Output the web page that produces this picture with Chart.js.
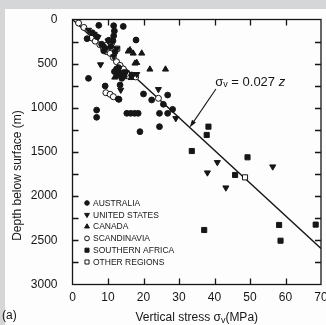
<!DOCTYPE html>
<html>
<head>
<meta charset="utf-8">
<script src="https://cdn.jsdelivr.net/npm/chart.js@4.4.1/dist/chart.umd.min.js"></script>
<style>
  html, body { margin: 0; padding: 0; background: #fff; }
</style>
</head>
<body>
<canvas id="stressChart" width="326" height="325"></canvas>
<script>
// values: vertical stress (MPa) vs depth (m)
const ausStress = [7.4, 11.6, 11.8, 11.6, 11.4, 14.3, 17.9, 4.1, 5.6, 6.9, 9.2, 12.0, 10.8, 4.5, 9.2, 13.1, 6.8, 6.8, 15.3, 16.4, 17.5, 18.5, 20.0, 26.8, 22.3, 25.6, 24.5, 26.8, 24.5, 19.0, 28.2, 12.9, 13.4, 13.9, 16.7, 12.4, 14.5, 8.2, 10.2, 12.9, 11.8, 13.0, 8.8];
const ausDepth = [66, 70, 130, 185, 240, 78, 232, 217, 150, 195, 326, 364, 305, 666, 753, 904, 1025, 1107, 1062, 1062, 1062, 1062, 843, 855, 911, 960, 1062, 1062, 1213, 1270, 1017, 628, 741, 666, 628, 560, 600, 280, 235, 900, 590, 545, 355];

const usaStress = [7.9, 13.6, 24.2, 29.1, 40.8, 38.0, 43.2, 56.4, 18.1, 6.1, 8.6, 10.0, 12.5, 11.6, 15.1, 4.5, 13.8, 7.2];
const usaDepth = [510, 798, 790, 1119, 1617, 1734, 1904, 1666, 620, 165, 300, 240, 330, 420, 600, 119, 640, 200];

const canStress = [16.2, 17.1, 19.5, 18.1, 21.8, 26.2, 17.6, 15.7, 13.4, 14.6, 12.5, 16.5, 11.9];
const canDepth = [345, 383, 383, 489, 564, 564, 496, 360, 600, 650, 620, 660, 655];

const scaStress = [1.7, 3.2, 5.5, 6.4, 7.7, 8.7, 9.6, 11.0, 10.6, 11.5, 12.4, 13.4, 14.3, 15.3, 17.8, 24.2, 9.4, 10.6, 11.5];
const scaDepth = [40, 90, 210, 245, 285, 320, 289, 270, 383, 430, 478, 520, 560, 610, 650, 892, 829, 847, 874];

const safStress = [38.3, 37.8, 33.6, 49.3, 45.8, 37.1, 58.2, 58.6, 68.5];
const safDepth = [1213, 1307, 1489, 1560, 1760, 2383, 2326, 2504, 2322];

const othStress = [48.6, 12.6, 9.8];
const othDepth = [1787, 330, 365];

const lineStress = [0, 70];
const lineDepth = [0, 2593];

const xTicksStep = 10;
const yTicksStep = 250;
const yLabelStep = 500;

const legendLabels = ['AUSTRALIA', 'UNITED STATES', 'CANADA', 'SCANDINAVIA', 'SOUTHERN AFRICA', 'OTHER REGIONS'];

// annotation: text anchor and arrow ends in data units
const noteAt = [40.2, 707];
const arrowFrom = [40.4, 787];
const arrowTo = [33.0, 1222];

const ink = '#161616';
const pts = (xs, ys) => xs.map((v, i) => ({ x: v, y: ys[i] }));

Chart.defaults.font.family = '"Liberation Sans", Arial, sans-serif';
Chart.defaults.color = ink;

const styles = [
  { pointStyle: 'circle', rotation: 0, radius: 2.9, fill: ink },
  { pointStyle: 'triangle', rotation: 180, radius: 3.5, fill: ink },
  { pointStyle: 'triangle', rotation: 0, radius: 3.5, fill: ink },
  { pointStyle: 'circle', rotation: 0, radius: 3.0, fill: '#fff' },
  { pointStyle: 'rect', rotation: 0, radius: 3.6, fill: ink },
  { pointStyle: 'rect', rotation: 0, radius: 3.6, fill: '#fff' }
];

function marker(ctx, st, x, y, scale) {
  const r = st.radius * scale;
  ctx.save();
  ctx.fillStyle = st.fill;
  ctx.strokeStyle = ink;
  ctx.lineWidth = 1;
  ctx.beginPath();
  if (st.pointStyle === 'circle') {
    ctx.arc(x, y, r, 0, Math.PI * 2);
  } else if (st.pointStyle === 'rect') {
    const s = r * Math.SQRT1_2;
    ctx.rect(x - s, y - s, 2 * s, 2 * s);
  } else {
    const d = st.rotation ? -1 : 1;
    ctx.moveTo(x, y - d * r);
    ctx.lineTo(x - r * 0.87, y + d * r * 0.5);
    ctx.lineTo(x + r * 0.87, y + d * r * 0.5);
    ctx.closePath();
  }
  ctx.fill();
  ctx.stroke();
  ctx.restore();
}

// draws pieces [text, font, dy] one after another, returns width
function runText(ctx, pieces, x, y, measureOnly) {
  let w = 0;
  pieces.forEach(p => {
    ctx.font = p[1];
    if (!measureOnly) ctx.fillText(p[0], x + w, y + (p[2] || 0));
    w += ctx.measureText(p[0]).width;
  });
  return w;
}

const decor = {
  id: 'decor',
  beforeDraw(chart) {
    const ctx = chart.ctx;
    ctx.save();
    ctx.fillStyle = '#d4d6d8';
    ctx.fillRect(0, 0, chart.width, chart.height);
    ctx.fillStyle = '#fdfdfd';
    ctx.fillRect(5, 9, chart.width - 5, chart.height - 9);
    ctx.restore();
  },
  afterDraw(chart) {
    const { ctx, chartArea: a, scales: { x, y } } = chart;
    ctx.save();
    ctx.strokeStyle = ink;
    ctx.fillStyle = ink;
    ctx.lineWidth = 1.3;
    ctx.strokeRect(a.left, a.top, a.right - a.left, a.bottom - a.top);

    ctx.beginPath();
    x.ticks.forEach(t => {
      if (t.value <= x.min || t.value >= x.max) return;
      const px = Math.round(x.getPixelForValue(t.value)) + 0.5;
      ctx.moveTo(px, a.bottom); ctx.lineTo(px, a.bottom - 6);
      ctx.moveTo(px, a.top); ctx.lineTo(px, a.top + 6);
    });
    y.ticks.forEach(t => {
      if (t.value <= y.min || t.value >= y.max) return;
      const py = Math.round(y.getPixelForValue(t.value)) + 0.5;
      ctx.moveTo(a.left, py); ctx.lineTo(a.left + 6, py);
      ctx.moveTo(a.right, py); ctx.lineTo(a.right - 6, py);
    });
    ctx.stroke();

    // arrow to the trend line
    const x0 = x.getPixelForValue(arrowFrom[0]), y0 = y.getPixelForValue(arrowFrom[1]);
    const x1 = x.getPixelForValue(arrowTo[0]), y1 = y.getPixelForValue(arrowTo[1]);
    const ang = Math.atan2(y1 - y0, x1 - x0);
    ctx.lineWidth = 1.1;
    ctx.beginPath();
    ctx.moveTo(x0, y0);
    ctx.lineTo(x1 - 5 * Math.cos(ang), y1 - 5 * Math.sin(ang));
    ctx.stroke();
    ctx.beginPath();
    ctx.moveTo(x1, y1);
    ctx.lineTo(x1 - 8 * Math.cos(ang - 0.3), y1 - 8 * Math.sin(ang - 0.3));
    ctx.lineTo(x1 - 8 * Math.cos(ang + 0.3), y1 - 8 * Math.sin(ang + 0.3));
    ctx.closePath();
    ctx.fill();

    ctx.textBaseline = 'middle';
    ctx.textAlign = 'left';
    const f = '13px "Liberation Sans", Arial, sans-serif';
    const fs = '9px "Liberation Sans", Arial, sans-serif';
    runText(ctx, [['σ', f], ['v', fs, 3], [' = 0.027 ', f], ['z', 'italic ' + f]],
      x.getPixelForValue(noteAt[0]), y.getPixelForValue(noteAt[1]));

    // x title with subscript
    const tf = '12px "Liberation Sans", Arial, sans-serif';
    const ts = '9px "Liberation Sans", Arial, sans-serif';
    const xt = [['Vertical stress σ', tf], ['v', ts, 3], ['(MPa)', tf]];
    const w = runText(ctx, xt, 0, 0, true);
    runText(ctx, xt, (a.left + a.right) / 2 - w / 2, 318);

    // y title
    ctx.save();
    ctx.translate(17.5, 175.5);
    ctx.rotate(-Math.PI / 2);
    ctx.textAlign = 'center';
    ctx.font = tf;
    ctx.fillText('Depth below surface (m)', 0, 0);
    ctx.restore();

    ctx.font = tf;
    ctx.fillText('(a)', 2, 316);

    // legend, inside lower left of the plot
    ctx.font = '8.5px "Liberation Sans Narrow", "Liberation Sans", Arial, sans-serif';
    legendLabels.forEach((lab, i) => {
      const ly = 203 + i * 11.8;
      marker(ctx, styles[i], a.left + 14.5, ly, 0.8);
      ctx.fillStyle = ink;
      ctx.fillText(lab, a.left + 20.5, ly + 0.5);
    });
    ctx.restore();
  }
};

const series = [
  [ausStress, ausDepth], [usaStress, usaDepth], [canStress, canDepth],
  [scaStress, scaDepth], [safStress, safDepth], [othStress, othDepth]
];

const datasets = series.map((s, i) => ({
  label: legendLabels[i],
  data: pts(s[0], s[1]),
  pointStyle: styles[i].pointStyle,
  rotation: styles[i].rotation,
  pointRadius: styles[i].radius,
  backgroundColor: styles[i].fill,
  borderColor: ink,
  borderWidth: 1
}));

datasets.push({
  type: 'line',
  label: 'fit',
  data: pts(lineStress, lineDepth),
  borderColor: ink,
  borderWidth: 1.4,
  pointRadius: 0,
  fill: false
});

new Chart(document.getElementById('stressChart'), {
  type: 'scatter',
  data: { datasets },
  options: {
    responsive: false,
    animation: false,
    events: [],
    layout: { padding: { top: 19.5, right: 5, left: 0, bottom: 0 } },
    plugins: { legend: { display: false }, tooltip: { enabled: false } },
    scales: {
      x: {
        type: 'linear', min: 0, max: 70,
        grid: { display: false, drawTicks: false },
        border: { display: false },
        ticks: { stepSize: xTicksStep, padding: 6, autoSkip: false, maxRotation: 0, font: { size: 12 } },
        afterFit(s) { s.height = 40.5; s.paddingLeft = 0; s.paddingRight = 0; }
      },
      y: {
        type: 'linear', min: 0, max: 3000, reverse: true,
        grid: { display: false, drawTicks: false },
        border: { display: false },
        ticks: {
          stepSize: yTicksStep, padding: 15, autoSkip: false, font: { size: 12 },
          callback: v => (v % yLabelStep === 0 ? v : '')
        },
        afterFit(s) { s.width = 72.5; s.paddingTop = 0; s.paddingBottom = 0; }
      }
    }
  },
  plugins: [decor]
});
</script>
</body>
</html>
